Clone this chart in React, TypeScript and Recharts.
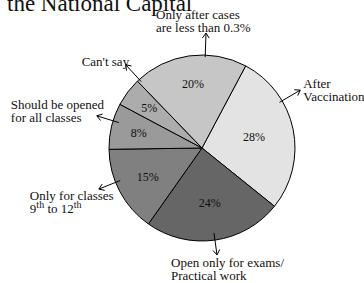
import { PieChart, Pie, Cell } from "recharts"

// Slices clockwise from the top-right boundary
const categories = [
        "After Vaccination",
        "Open only for exams/ Practical work",
        "Only for classes 9th to 12th",
        "Should be opened for all classes",
        "Can't say",
        "Only after cases are less than 0.3%",
]
const shares = [28, 24, 15, 8, 5, 20]
const labelLines = [
        ["After", "Vaccination"],
        ["Open only for exams/", "Practical work"],
        ["Only for classes", "9^th to 12^th"],
        ["Should be opened", "for all classes"],
        ["Can't say"],
        ["Only after cases", "are less than 0.3%"],
]
const fills = ["#e3e3e3", "#666666", "#808080", "#9a9a9a", "#acacac", "#c6c6c6"]

const title = "the National Capital"

// callout geometry per slice: arrow angle (deg, ccw from east), arrow radii, text offset from arrow tip
const callouts = [
        { angle: 30.5, r0: 90, r1: 114, dx: 3, dy: -2 },
        { angle: -82, r0: 86, r1: 108, dx: -46, dy: 12 },
        { angle: -158.3, r0: 88, r1: 111, dx: -69, dy: 11 },
        { angle: 163, r0: 87, r1: 110, dx: -86, dy: -7 },
        { angle: 132.5, r0: 90, r1: 113, dx: -44, dy: 1 },
        { angle: 88, r0: 91, r1: 115, dx: -50, dy: -14 },
]
const innerR = [0.57, 0.6, 0.66, 0.7, 0.71, 0.69]

const data = categories.map((name, i) => ({ name, value: shares[i] }))

const FONT = "'Liberation Serif', 'Times New Roman', serif"
const RAD = Math.PI / 180

function polar(cx: number, cy: number, r: number, deg: number) {
        return { x: cx + r * Math.cos(deg * RAD), y: cy - r * Math.sin(deg * RAD) }
}

// "9^th to 12^th" -> tspans with superscripts
function renderLine(line: string) {
        const parts = line.split(/(\^\w+)/).filter(Boolean)
        const out: any[] = []
        let raised = false
        parts.forEach((p, k) => {
                if (p.startsWith("^")) {
                        out.push(
                                <tspan key={k} dy={-5} fontSize={10}>{p.slice(1)}</tspan>,
                        )
                        raised = true
                } else {
                        out.push(
                                <tspan key={k} dy={raised ? 5 : 0}>{p}</tspan>,
                        )
                        raised = false
                }
        })
        return out
}

function renderLabel(props: any) {
        const { cx, cy, midAngle, outerRadius, index, value } = props
        const c = callouts[index]
        const inner = polar(cx, cy, outerRadius * innerR[index], midAngle)
        const a = polar(cx, cy, c.r0, c.angle)
        const b = polar(cx, cy, c.r1, c.angle)
        // open arrowhead at the tip
        const dir = Math.atan2(b.y - a.y, b.x - a.x)
        const head = [dir + Math.PI - 0.6, dir + Math.PI + 0.6].map((t) => ({
                x: b.x + 6 * Math.cos(t),
                y: b.y + 6 * Math.sin(t),
        }))
        return (
                <g key={index}>
                        <text
                                x={inner.x}
                                y={inner.y}
                                textAnchor="middle"
                                dominantBaseline="central"
                                fontFamily={FONT}
                                fontSize={12}
                                fill="#111"
                        >
                                {value}%
                        </text>
                        <line x1={a.x} y1={a.y} x2={b.x} y2={b.y} stroke="#000" strokeWidth={1} />
                        <polyline
                                points={`${head[0].x},${head[0].y} ${b.x},${b.y} ${head[1].x},${head[1].y}`}
                                fill="none"
                                stroke="#000"
                                strokeWidth={1}
                        />
                        {labelLines[index].map((ln, k) => (
                                <text
                                        key={k}
                                        x={b.x + c.dx}
                                        y={b.y + c.dy + k * 13}
                                        fontFamily={FONT}
                                        fontSize={13}
                                        fill="#111"
                                >
                                        {renderLine(ln)}
                                </text>
                        ))}
                </g>
        )
}

export default function App() {
        return (
                <div style={{ position: "absolute", left: 0, top: 0, width: 364, height: 283, background: "#fff" }}>
                        <svg
                                width={364}
                                height={283}
                                style={{ position: "absolute", left: 0, top: 0, pointerEvents: "none" }}
                        >
                                <text x={7} y={11} fontFamily={FONT} fontSize={23} fill="#111">
                                        {title}
                                </text>
                        </svg>
                        <PieChart width={364} height={283} margin={{ top: 0, right: 0, bottom: 0, left: 0 }}>
                                <Pie
                                        data={data}
                                        dataKey="value"
                                        nameKey="name"
                                        cx={202}
                                        cy={148}
                                        outerRadius={93}
                                        startAngle={62}
                                        endAngle={-298}
                                        stroke="#000"
                                        strokeWidth={1}
                                        label={renderLabel}
                                        labelLine={false}
                                        isAnimationActive={false}
                                >
                                        {data.map((d, i) => (
                                                <Cell key={d.name} fill={fills[i]} />
                                        ))}
                                </Pie>
                        </PieChart>
                </div>
        )
}
